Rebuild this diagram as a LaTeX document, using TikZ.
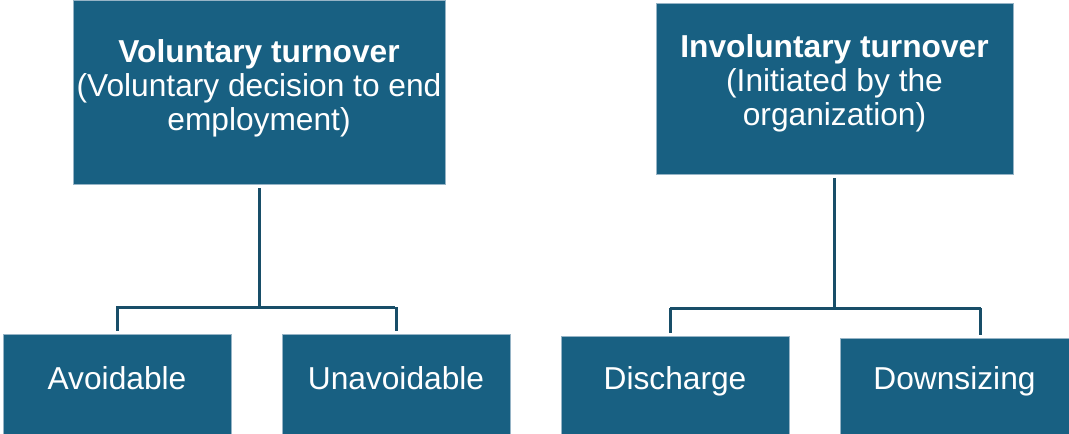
\documentclass[tikz,border=0pt]{standalone}
\usepackage{fontspec}
\setmainfont{Liberation Sans}
\definecolor{boxblue}{RGB}{24,96,130}
\definecolor{edgeblue}{RGB}{150,180,198}
\definecolor{linkblue}{RGB}{24,78,104}
\begin{document}
\begin{tikzpicture}[x=1pt,y=-1pt,
  box/.style={draw=edgeblue, line width=0.6pt, fill=boxblue, inner sep=0pt, text=white},
  toptext/.style={text=white, align=center, inner sep=0pt, font=\fontsize{31.7}{34}\selectfont},
  leaf/.style={box, minimum width=228, font=\fontsize{31.7}{34}\selectfont, text height=23pt, text depth=13pt},
  conn/.style={draw=linkblue, line width=3pt}]
\useasboundingbox (0,0) rectangle (1069,434);
% top boxes
\node[box, minimum width=372, minimum height=184,
  label={[toptext, anchor=north, yshift=-40pt]north:{\textbf{Voluntary turnover}\\(Voluntary decision to end\\employment)}}]
  (vol) at (259,92) {};
\node[box, minimum width=357, minimum height=171,
  label={[toptext, anchor=north, yshift=-32pt]north:{\textbf{Involuntary turnover}\\(Initiated by the\\organization)}}]
  (inv) at (834.5,88.5) {};
% leaves
\node[leaf, minimum height=100] (avo) at (117,384) {Avoidable};
\node[leaf, minimum height=100] (una) at (396,384) {Unavoidable};
\node[leaf, minimum height=98, text depth=15pt] (dis) at (675,385) {Discharge};
\node[leaf, minimum height=96, minimum width=229, text depth=17pt] (dow) at (954.5,386) {Downsizing};
% junctions
\coordinate (j1) at (259,307);
\coordinate (j2) at (834.5,308);
% connectors
\draw[conn, shorten <=4pt] (vol.south) -- (j1);
\draw[conn, line cap=rect, shorten >=3pt] (avo.north |- j1) -- (una.north |- j1);
\draw[conn, shorten >=3pt] (j1 -| avo.north) -- (avo.north);
\draw[conn, shorten >=3pt] (j1 -| una.north) -- (una.north);
\draw[conn, shorten <=4pt] (inv.south) -- (j2);
\draw[conn] ([xshift=-5pt]dis.north |- j2) -- ([xshift=26pt]dow.north |- j2);
\draw[conn, shorten >=3pt] ([xshift=-5pt]dis.north |- j2) -- ([xshift=-5pt]dis.north);
\draw[conn, shorten >=3pt] ([xshift=26pt]dow.north |- j2) -- ([xshift=26pt]dow.north);
\end{tikzpicture}
\end{document}
